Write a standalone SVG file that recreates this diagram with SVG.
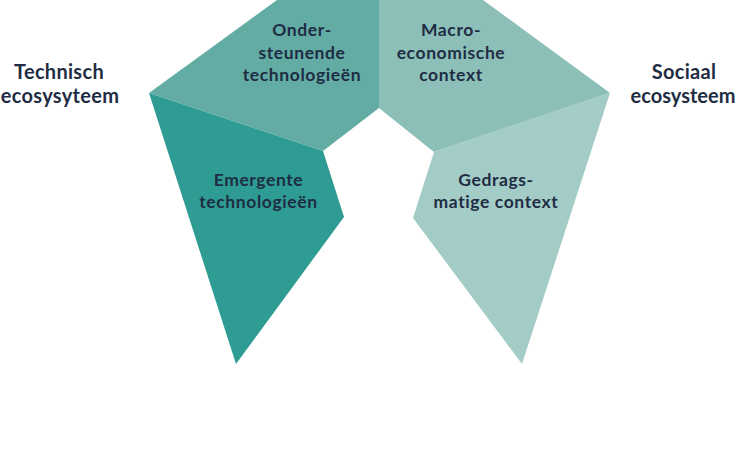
<svg xmlns="http://www.w3.org/2000/svg" width="737" height="449" viewBox="0 0 737 449">
<style>
.t{font-family:Lato,"Noto Sans","Liberation Sans",sans-serif;font-weight:700;fill:#1f2d44;text-anchor:middle}
.in{font-size:17.5px;letter-spacing:0.6px}
.side{font-size:20px;letter-spacing:0.3px}
</style>
<rect width="737" height="449" fill="#ffffff"/>
<g id="ondersteunende">
<polygon points="149,93 277,0 379,0 379,108 323,151" fill="#62aca4"/>
<text class="t in" x="302" y="36">Onder-</text>
<text class="t in" x="302" y="58.5">steunende</text>
<text class="t in" x="302" y="81">technologieën</text>
</g>
<g id="macro">
<polygon points="379,0 483,0 610,93 434,152 379,108" fill="#8bbfb8"/>
<text class="t in" x="451" y="36">Macro-</text>
<text class="t in" x="451" y="58.5">economische</text>
<text class="t in" x="451" y="81">context</text>
</g>
<g id="emergente">
<polygon points="149,93 323,151 344,217 236,364" fill="#2e9c93"/>
<text class="t in" x="258.5" y="186">Emergente</text>
<text class="t in" x="258.5" y="208">technologieën</text>
</g>
<g id="gedrags">
<polygon points="610,93 434,152 413,218 522,364" fill="#a3ccc6"/>
<text class="t in" x="496" y="186">Gedrags-</text>
<text class="t in" x="496" y="208">matige context</text>
</g>
<g id="technisch">
<text class="t side" x="59" y="79">Technisch</text>
<text class="t side" x="60" y="103">ecosysyteem</text>
</g>
<g id="sociaal">
<text class="t side" x="684" y="79">Sociaal</text>
<text class="t side" x="683" y="103" style="letter-spacing:0px">ecosysteem</text>
</g>
<g id="connectors"/>
</svg>
